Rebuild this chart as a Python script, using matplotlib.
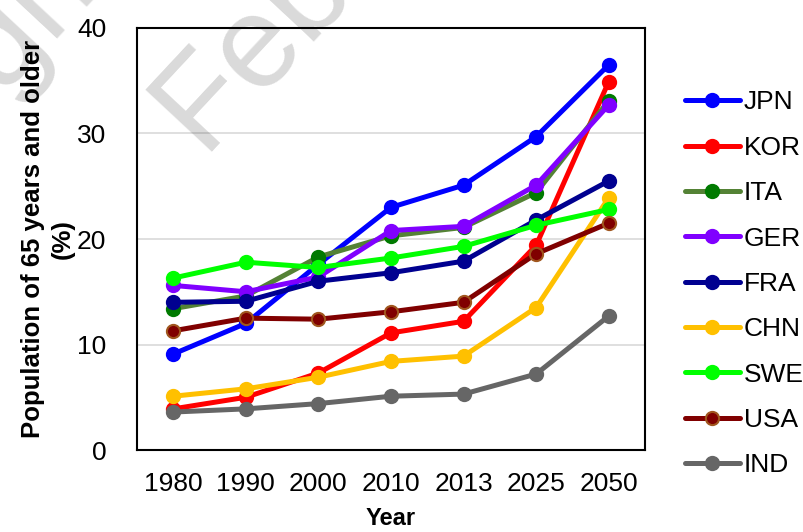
import matplotlib
matplotlib.use("Agg")
import matplotlib.pyplot as plt

plt.rcParams["font.family"] = ["Liberation Sans", "DejaVu Sans"]

years = ["1980", "1990", "2000", "2010", "2013", "2025", "2050"]

jpn = [9.1, 12.0, 17.6, 23.0, 25.1, 29.7, 36.5]
kor = [3.9, 5.0, 7.3, 11.1, 12.2, 19.4, 34.9]
ita = [13.4, 14.6, 18.3, 20.3, 21.1, 24.4, 33.1]
ger = [15.6, 15.0, 16.4, 20.8, 21.2, 25.1, 32.7]
fra = [14.0, 14.1, 16.0, 16.8, 17.9, 21.8, 25.5]
chn = [5.1, 5.8, 6.9, 8.4, 8.9, 13.5, 23.9]
swe = [16.3, 17.8, 17.3, 18.2, 19.3, 21.3, 22.8]
usa = [11.3, 12.5, 12.4, 13.1, 14.0, 18.6, 21.5]
ind = [3.6, 3.9, 4.4, 5.1, 5.3, 7.2, 12.7]

series = [
    ("JPN", jpn, "#0000FF", "#0000FF", "#0000FF"),
    ("KOR", kor, "#FF0000", "#FF0000", "#FF0000"),
    ("ITA", ita, "#548235", "#007A00", "#007A00"),
    ("GER", ger, "#8000FF", "#8000FF", "#8000FF"),
    ("FRA", fra, "#000090", "#000090", "#000090"),
    ("CHN", chn, "#FFC000", "#FFC000", "#FFC000"),
    ("SWE", swe, "#00FF00", "#00FF00", "#00FF00"),
    ("USA", usa, "#800000", "#800000", "#A0561E"),
    ("IND", ind, "#666666", "#666666", "#666666"),
]

fig = plt.figure(figsize=(8.04, 5.32), dpi=100)
ax = fig.add_axes([0.1704, 0.1541, 0.6318, 0.7933])

x = list(range(len(years)))
for name, vals, lc, mfc, mec in series:
    ax.plot(x, vals, color=lc, lw=3.6, marker="o", markersize=9.5,
            markerfacecolor=mfc, markeredgecolor=mec, markeredgewidth=1.5,
            label=name, solid_capstyle="round")

ax.set_xlim(-0.5, 6.5)
ax.set_ylim(0, 40)
ax.set_yticks([0, 10, 20, 30, 40])
ax.set_xticks(x)
ax.set_xticklabels(years)
ax.tick_params(axis="both", length=0, labelsize=19)
ax.tick_params(axis="y", pad=22)
ax.tick_params(axis="x", pad=16)
ax.yaxis.grid(True, color="#D9D9D9", lw=1.2)
ax.set_axisbelow(True)
for sp in ax.spines.values():
    sp.set_color("black")
    sp.set_linewidth(1.5)

ax.set_xlabel("Year", fontsize=17, fontweight="bold", labelpad=8)
ax.set_ylabel("Population of 65 years and older\n(%)", fontsize=18.5,
              fontweight="bold", linespacing=1.3, labelpad=2)

leg = ax.legend(loc="upper left", bbox_to_anchor=(1.078, 0.852), frameon=False,
                fontsize=19, handlelength=2.1, handletextpad=0.15,
                labelspacing=0.81, borderaxespad=0, borderpad=0)

# diagonal watermark text
fig.text(205 / 804, 1 - 159 / 532, "Feb 2020", fontsize=94, rotation=47,
         rotation_mode="anchor", ha="left", va="baseline", color="black",
         alpha=0.15, zorder=10)
fig.text(-50 / 804, 1 - 145 / 532, "rights", fontsize=94, rotation=47,
         rotation_mode="anchor", ha="left", va="baseline", color="black",
         alpha=0.15, zorder=10)

fig.savefig("out.png", dpi=100)
